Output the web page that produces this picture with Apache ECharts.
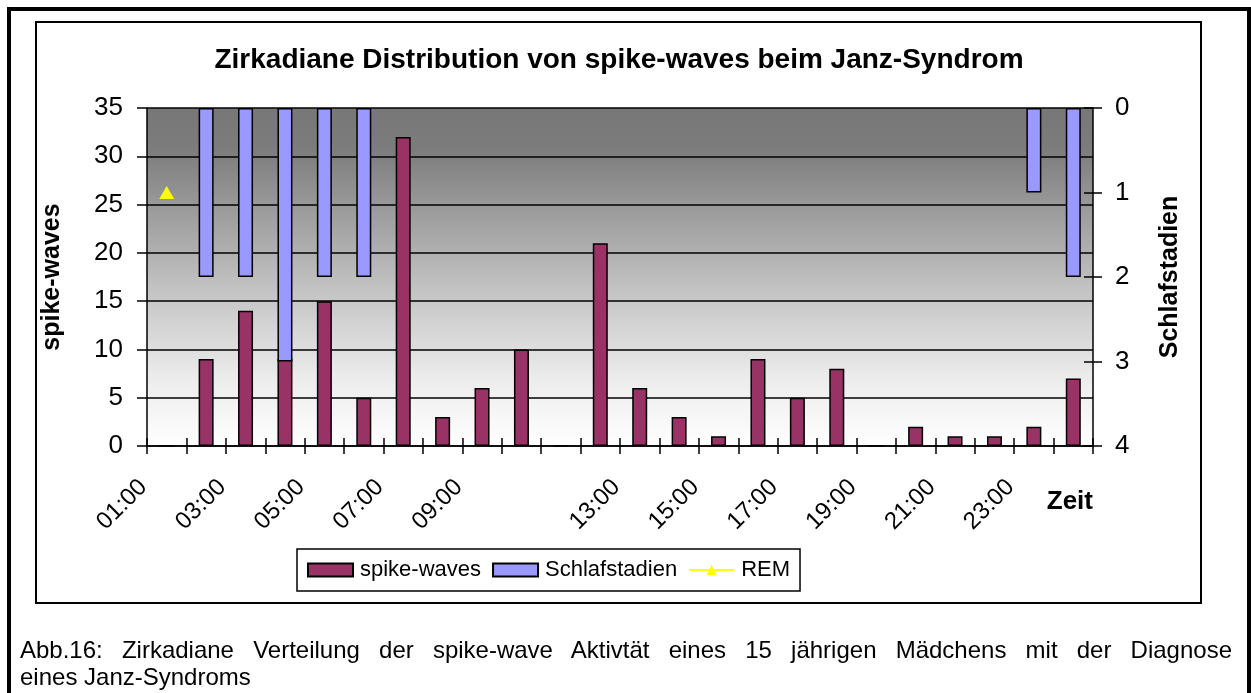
<!DOCTYPE html>
<html>
<head>
<meta charset="utf-8">
<title>Zirkadiane Distribution von spike-waves beim Janz-Syndrom</title>
<script src="https://cdn.jsdelivr.net/npm/echarts@6.0.0/dist/echarts.min.js"></script>
<style>
    html, body { margin: 0; padding: 0; background: #fff; }
    body { width: 1251px; height: 693px; position: relative; overflow: hidden;
           font-family: "Liberation Sans", Arial, sans-serif; }
    .frame { position: absolute; left: 7px; top: 7px; width: 1236px; height: 720px;
             border: 4px solid #000; }
    #chart { position: absolute; left: 0; top: 0; width: 1251px; height: 693px; }
    .caption { position: absolute; left: 20px; top: 636px; width: 1212px;
               font-size: 24px; line-height: 27px; color: #000; }
    .caption .l1 { text-align: justify; text-align-last: justify; }
</style>
</head>
<body>
<div class="frame"></div>
<div id="chart"></div>
<div class="caption">
    <div class="l1">Abb.16: Zirkadiane Verteilung der spike-wave Aktivtät eines 15 jährigen Mädchens mit der Diagnose</div>
    <div>eines Janz-Syndroms</div>
</div>

<script>
    // Stunden (Kategorien) und beschriftete Stunden
    var hours = ['01:00', '02:00', '03:00', '04:00', '05:00', '06:00', '07:00', '08:00',
                 '09:00', '10:00', '11:00', '12:00', '13:00', '14:00', '15:00', '16:00',
                 '17:00', '18:00', '19:00', '20:00', '21:00', '22:00', '23:00', '24:00'];
    var shownHours = ['01:00', '03:00', '05:00', '07:00', '09:00', '13:00',
                      '15:00', '17:00', '19:00', '21:00', '23:00'];

    // Werte
    var spikeWaves = [0, 9, 14, 9, 15, 5, 32, 3, 6, 10, 0, 21,
                      6, 3, 1, 9, 5, 8, 0, 2, 1, 1, 2, 7];
    var schlafstadien = [null, 2, 2, 3, 2, 2, null, null, null, null, null, null,
                         null, null, null, null, null, null, null, null, null, null, 1, 2];
    var rem = [1, null, null, null, null, null, null, null, null, null, null, null,
               null, null, null, null, null, null, null, null, null, null, null, null];

    // Achsenbereiche
    var leftTicks = { min: 0, max: 35, interval: 5 };
    var rightTicks = { min: 0, max: 4, interval: 1 };

    var FONT = '"Liberation Sans", Arial, sans-serif';
    var plotBox = { left: 147, top: 108, width: 946, height: 338 };
    var tickStyle = { color: '#000', width: 1.5 };

    var myChart = echarts.init(document.getElementById('chart'));

    var option = {
        animation: false,
        textStyle: { fontFamily: FONT, color: '#000' },
        title: {
            text: 'Zirkadiane Distribution von spike-waves beim Janz-Syndrom',
            left: 614,
            top: 41,
            textAlign: 'center',
            textStyle: { fontSize: 28, fontWeight: 'bold', color: '#000', fontFamily: FONT }
        },
        grid: [
            {
                left: plotBox.left, top: plotBox.top, width: plotBox.width, height: plotBox.height,
                show: true,
                borderWidth: 0,
                outerBoundsMode: 'none',
                backgroundColor: new echarts.graphic.LinearGradient(0, 0, 0, 1, [
                    { offset: 0, color: '#777777' },
                    { offset: 0.12, color: '#7c7c7c' },
                    { offset: 0.5, color: '#bdbdbd' },
                    { offset: 0.8, color: '#ececec' },
                    { offset: 1, color: '#ffffff' }
                ])
            },
            { // zweites Raster nur für die inneren Teilstriche
                left: plotBox.left, top: plotBox.top, width: plotBox.width, height: plotBox.height,
                show: false,
                outerBoundsMode: 'none'
            }
        ],
        legend: {
            left: 297,
            top: 549,
            padding: [10, 10, 10, 10],
            itemGap: 11,
            itemWidth: 45,
            itemHeight: 13,
            borderColor: '#000',
            borderWidth: 1.5,
            backgroundColor: '#fff',
            textStyle: { fontSize: 22, color: '#000', fontFamily: FONT, padding: [0, 0, 0, 2] },
            data: [
                { name: 'spike-waves', icon: 'rect' },
                { name: 'Schlafstadien', icon: 'rect' },
                { name: 'REM' }
            ]
        },
        xAxis: [
            {
                type: 'category',
                gridIndex: 0,
                data: hours,
                boundaryGap: true,
                axisLine: { onZero: false, lineStyle: tickStyle },
                axisTick: { show: true, interval: 0, length: 8, lineStyle: tickStyle },
                axisLabel: {
                    interval: 0,
                    rotate: 45,
                    margin: 14,
                    padding: [0, 33, 0, 0],
                    fontSize: 24,
                    color: '#000',
                    formatter: function (v) {
                        return shownHours.indexOf(v) >= 0 ? v : '';
                    }
                },
                name: 'Zeit',
                nameLocation: 'end',
                nameGap: 0,
                nameTextStyle: {
                    fontSize: 26, fontWeight: 'bold', color: '#000',
                    align: 'right', verticalAlign: 'top', padding: [43, 0, 0, 0]
                }
            },
            { // innere Teilstriche unten
                type: 'category',
                gridIndex: 1,
                data: hours,
                position: 'bottom',
                boundaryGap: true,
                axisLine: { show: false, onZero: false },
                axisTick: { show: true, inside: true, interval: 0, length: 8, lineStyle: tickStyle },
                axisLabel: { show: false },
                splitLine: { show: false }
            }
        ],
        yAxis: [
            {
                type: 'value',
                gridIndex: 0,
                min: leftTicks.min, max: leftTicks.max, interval: leftTicks.interval,
                axisLine: { show: true, lineStyle: tickStyle },
                axisTick: { show: true, length: 10, lineStyle: tickStyle },
                axisLabel: { fontSize: 26, color: '#000', margin: 24 },
                splitLine: { show: true, lineStyle: { color: '#000', width: 1.5 } },
                name: 'spike-waves',
                nameLocation: 'middle',
                nameGap: 82,
                nameRotate: 90,
                nameTextStyle: { fontSize: 25, fontWeight: 'bold', color: '#000' }
            },
            {
                type: 'value',
                gridIndex: 0,
                position: 'right',
                inverse: true,
                min: rightTicks.min, max: rightTicks.max, interval: rightTicks.interval,
                axisLine: { show: true, lineStyle: tickStyle },
                axisTick: { show: true, length: 9, lineStyle: tickStyle },
                axisLabel: { fontSize: 26, color: '#000', margin: 22 },
                splitLine: { show: false },
                name: 'Schlafstadien',
                nameLocation: 'middle',
                nameGap: 65,
                nameRotate: 90,
                nameTextStyle: { fontSize: 25, fontWeight: 'bold', color: '#000' }
            },
            { // innere Teilstriche rechts
                type: 'value',
                gridIndex: 1,
                position: 'right',
                inverse: true,
                min: rightTicks.min, max: rightTicks.max, interval: rightTicks.interval,
                axisLine: { show: false },
                axisTick: { show: true, inside: true, length: 9, lineStyle: tickStyle },
                axisLabel: { show: false },
                splitLine: { show: false }
            }
        ],
        series: [
            {
                name: 'spike-waves',
                type: 'bar',
                xAxisIndex: 0,
                yAxisIndex: 0,
                data: spikeWaves,
                barWidth: 15,
                itemStyle: { color: '#993366', borderColor: '#000', borderWidth: 1.5 }
            },
            {
                name: 'Schlafstadien',
                type: 'bar',
                xAxisIndex: 0,
                yAxisIndex: 1,
                data: schlafstadien,
                barWidth: 15,
                barGap: '-100%',
                itemStyle: { color: '#9999ff', borderColor: '#000', borderWidth: 1.5 }
            },
            {
                name: 'REM',
                type: 'line',
                xAxisIndex: 0,
                yAxisIndex: 1,
                data: rem,
                symbol: 'triangle',
                symbolSize: [15, 13],
                showSymbol: true,
                itemStyle: { color: '#ffff00' },
                lineStyle: { color: '#ffff00', width: 1.5 },
                z: 5
            }
        ],
        graphic: [
            { // Diagrammrahmen
                type: 'rect',
                shape: { x: 36, y: 22, width: 1165, height: 581 },
                style: { fill: 'none', stroke: '#000', lineWidth: 2 },
                z: -1
            }
        ]
    };

    myChart.setOption(option);
</script>
</body>
</html>
